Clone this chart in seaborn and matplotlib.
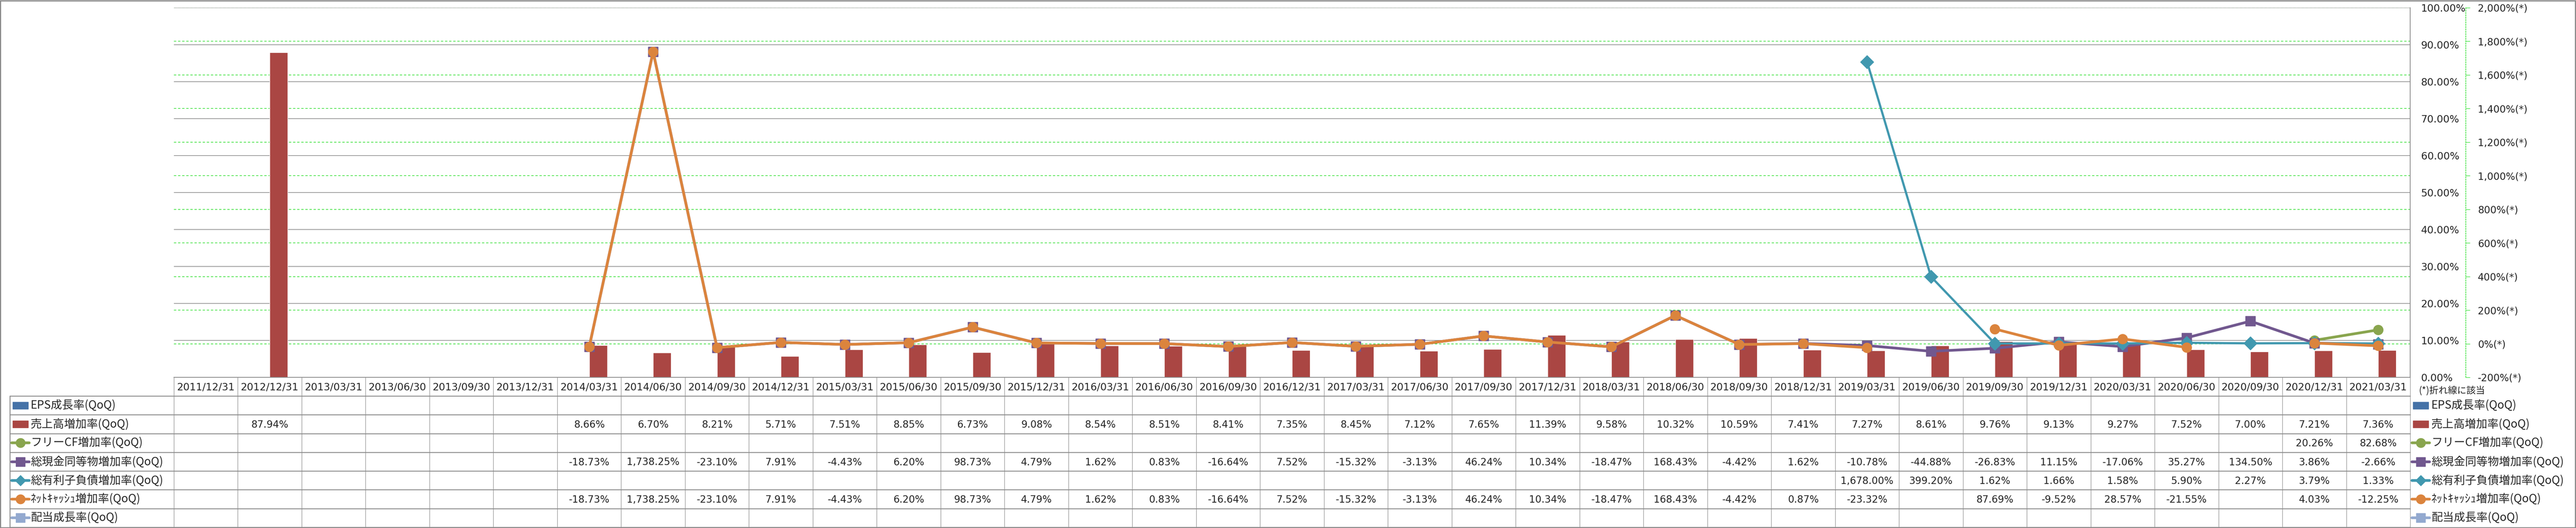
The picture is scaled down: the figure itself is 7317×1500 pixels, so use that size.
import numpy as np
import pandas as pd
import matplotlib
matplotlib.use("Agg")
import matplotlib.pyplot as plt
from matplotlib.patches import Rectangle
import seaborn as sns

# --- data (QoQ growth rates, %) ---
dates = ['2011/12/31', '2012/12/31', '2013/03/31', '2013/06/30', '2013/09/30', '2013/12/31',
         '2014/03/31', '2014/06/30', '2014/09/30', '2014/12/31',
         '2015/03/31', '2015/06/30', '2015/09/30', '2015/12/31',
         '2016/03/31', '2016/06/30', '2016/09/30', '2016/12/31',
         '2017/03/31', '2017/06/30', '2017/09/30', '2017/12/31',
         '2018/03/31', '2018/06/30', '2018/09/30', '2018/12/31',
         '2019/03/31', '2019/06/30', '2019/09/30', '2019/12/31',
         '2020/03/31', '2020/06/30', '2020/09/30', '2020/12/31', '2021/03/31']
nan = np.nan
eps = [nan] * 35
sales = [nan, 87.94, nan, nan, nan, nan,
         8.66, 6.70, 8.21, 5.71, 7.51, 8.85, 6.73, 9.08, 8.54, 8.51, 8.41, 7.35,
         8.45, 7.12, 7.65, 11.39, 9.58, 10.32, 10.59, 7.41, 7.27, 8.61, 9.76, 9.13,
         9.27, 7.52, 7.00, 7.21, 7.36]
fcf = [nan] * 33 + [20.26, 82.68]
cash = [nan] * 6 + [-18.73, 1738.25, -23.10, 7.91, -4.43, 6.20, 98.73, 4.79, 1.62, 0.83,
                    -16.64, 7.52, -15.32, -3.13, 46.24, 10.34, -18.47, 168.43, -4.42, 1.62,
                    -10.78, -44.88, -26.83, 11.15, -17.06, 35.27, 134.50, 3.86, -2.66]
debt = [nan] * 26 + [1678.00, 399.20, 1.62, 1.66, 1.58, 5.90, 2.27, 3.79, 1.33]
netcash = [nan] * 6 + [-18.73, 1738.25, -23.10, 7.91, -4.43, 6.20, 98.73, 4.79, 1.62, 0.83,
                       -16.64, 7.52, -15.32, -3.13, 46.24, 10.34, -18.47, 168.43, -4.42, 0.87,
                       -23.32, nan, 87.69, -9.52, 28.57, -21.55, nan, 4.03, -12.25]
dividend = [nan] * 35

names = ['EPS成長率(QoQ)', '売上高増加率(QoQ)', 'フリーCF増加率(QoQ)', '総現金同等物増加率(QoQ)',
         '総有利子負債増加率(QoQ)', 'ﾈｯﾄｷｬｯｼｭ増加率(QoQ)', '配当成長率(QoQ)']
rows = [eps, sales, fcf, cash, debt, netcash, dividend]
colors = ['#4572A7', '#AA4643', '#89A54E', '#71588F', '#4198AF', '#DB843D', '#93A9CF']
kinds = ['bar', 'bar', 'o', 's', 'D', 'o', 's']

left_ticks = list(range(0, 101, 10))
right_ticks = list(range(-200, 2001, 200))

# --- style ---
sns.set_style('white')
plt.rcParams['font.family'] = ['DejaVu Sans', 'Noto Sans CJK JP']
jp = ['Noto Sans CJK JP', 'DejaVu Sans']
grid_gray = '#8a8a8a'
green = '#22dd22'

W, H = 7317, 1500
fig = plt.figure(figsize=(W / 100, H / 100), dpi=100)
fig.patch.set_facecolor('white')

pl, pr, pt, pb = 494, 6846, 22, 1072
rect = [pl / W, 1 - pb / H, (pr - pl) / W, (pb - pt) / H]
n = len(dates)

# secondary-axis grid, drawn behind everything
axg = fig.add_axes(rect, zorder=1)
axg.set_xlim(-0.5, n - 0.5)
axg.set_ylim(-200, 2000)
axg.set_yticks(right_ticks)
axg.grid(axis='y', color=green, linestyle=(0, (4, 3)), linewidth=1.2)
axg.tick_params(left=False, labelleft=False, bottom=False, labelbottom=False)
for s in axg.spines.values():
    s.set_visible(False)
axg.patch.set_visible(False)

# bars on the primary axis
ax = fig.add_axes(rect, zorder=2)
ax.patch.set_visible(False)
bar_df = pd.DataFrame({'date': dates * 2,
                       'series': [names[0]] * n + [names[1]] * n,
                       'value': eps + sales})
sns.barplot(data=bar_df, x='date', y='value', hue='series', order=dates,
            hue_order=names[:2], palette=colors[:2], width=0.562, saturation=1,
            errorbar=None, legend=False, ax=ax)

# lines on the secondary axis
ax2 = ax.twinx()
ax2.set_zorder(3)
ax2.patch.set_visible(False)
x = np.arange(n)
for vals, c, m, lw in [(fcf, colors[2], 'o', 5.5), (cash, colors[3], 's', 5.5),
                       (debt, colors[4], 'D', 4.5), (netcash, colors[5], 'o', 5.5)]:
    ms = 19 if m == 'D' else 20
    ax2.plot(x, vals, color=c, lw=lw, marker=m, ms=ms, mec=c, mfc=c, clip_on=False)

ax.set_xlim(-0.5, n - 0.5)
ax.set_ylim(0, 100)
ax.set_yticks(left_ticks)
ax.set_yticklabels([f'{t:.2f}%' for t in left_ticks])
ax.yaxis.tick_right()
ax.tick_params(axis='y', length=0, pad=22, labelsize=20.5, labelleft=False, labelright=True)
ax.tick_params(axis='x', bottom=False, labelbottom=False)
ax.set_xlabel('')
ax.set_ylabel('')
ax.grid(axis='y', color=grid_gray, linewidth=1.3)
ax.set_axisbelow(True)
for k, s in ax.spines.items():
    s.set_visible(k in ('right', 'bottom'))
    s.set_color(grid_gray)
    s.set_linewidth(1.6)

ax2.set_ylim(-200, 2000)
ax2.set_yticks(right_ticks)
ax2.set_yticklabels([f'{t:,}%(*)' for t in right_ticks])
ax2.tick_params(axis='y', length=8.5, width=1, color=green, pad=16, labelsize=20)
ax2.get_yticklabels()[0].set_color('red')
for k, s in ax2.spines.items():
    s.set_visible(k == 'right')
ax2.spines['right'].set_position(('outward', 113.8))
ax2.spines['right'].set_color(green)
ax2.spines['right'].set_linestyle((0, (2, 2)))
ax2.spines['right'].set_linewidth(1.2)

# --- data table and legend, drawn in pixel coordinates ---
ov = fig.add_axes([0, 0, 1, 1], zorder=5)
ov.set_xlim(0, W)
ov.set_ylim(H, 0)
ov.axis('off')
ov.patch.set_visible(False)

col_w = (pr - pl) / n
head_b = 1125
row_h = (1498 - head_b) / len(rows)
tbl_l = 28

for i in range(n + 1):
    xx = pl + i * col_w
    ov.plot([xx, xx], [pb, 1498], color=grid_gray, lw=1.0)
for k in range(len(rows) + 1):
    yy = head_b + k * row_h
    ov.plot([tbl_l, pr], [yy, yy], color=grid_gray, lw=1.8)
ov.plot([tbl_l, tbl_l], [head_b, 1498], color=grid_gray, lw=1.8)

for i, d in enumerate(dates):
    ov.text(pl + (i + 0.5) * col_w, (pb + head_b) / 2 + 2, d, ha='center', va='center',
            fontsize=20.5)

def legend_icon(cx, cy, kind, c):
    if kind == 'bar':
        ov.add_patch(Rectangle((cx - 22, cy - 10), 44, 20, color=c))
    else:
        ov.plot([cx - 25, cx + 25], [cy, cy], color=c, lw=5.5, solid_capstyle='round')
        ov.plot([cx], [cy], marker=kind, ms=15 if kind == 'D' else 19, color=c)

for k, (name, vals, c, kind) in enumerate(zip(names, rows, colors, kinds)):
    cy = head_b + (k + 0.5) * row_h
    legend_icon(58, cy, kind, c)
    ov.text(87, cy, name, ha='left', va='center', fontsize=23, family=jp)
    legend_icon(6876, cy, kind, c)
    ov.text(6906, cy, name, ha='left', va='center', fontsize=23, family=jp)
    for i, v in enumerate(vals):
        if not np.isnan(v):
            ov.text(pl + (i + 0.5) * col_w, cy + 2, f'{v:,.2f}%', ha='center',
                    va='center', fontsize=20)

ov.text(6871, 1110, '(*)折れ線に該当', ha='left', va='center', fontsize=19, family=jp)

# outer frame
ov.add_patch(Rectangle((1.5, 1.5), W - 3, 1497, fill=False, edgecolor=grid_gray, lw=2.5))

fig.savefig('out.png', dpi=100, facecolor='white')
